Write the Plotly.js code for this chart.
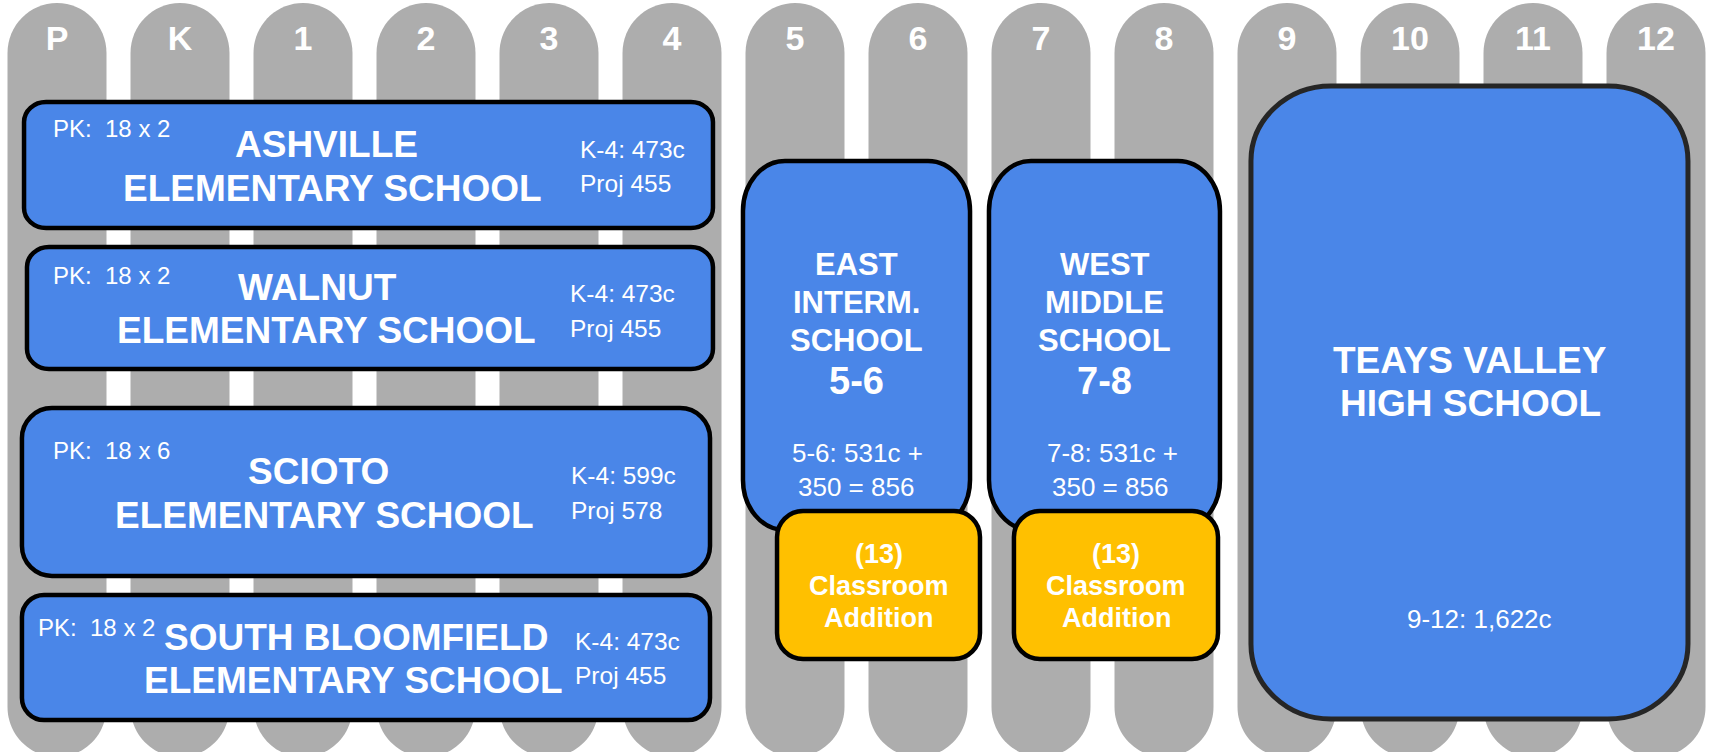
<!DOCTYPE html>
<html>
<head>
<meta charset="utf-8">
<script src="https://cdn.plot.ly/plotly-3.0.1.min.js"></script>
<style>html,body{margin:0;padding:0;background:#fff;}#chart{width:1714px;height:752px;}</style>
</head>
<body>
<div id="chart"></div>
<script>
// ---------- data ----------
const grades = ['P','K','1','2','3','4','5','6','7','8','9','10','11','12'];

const elemNames = ['ASHVILLE','WALNUT','SCIOTO','SOUTH BLOOMFIELD'];
const elemSub = 'ELEMENTARY SCHOOL';
const elemPK = ['PK:  18 x 2','PK:  18 x 2','PK:  18 x 6','PK:  18 x 2'];
const elemCap = ['K-4: 473c','K-4: 473c','K-4: 599c','K-4: 473c'];
const elemProj = ['Proj 455','Proj 455','Proj 578','Proj 455'];
const elemSpan = ['P','4'];

const midNames = [['EAST','INTERM.','SCHOOL'],['WEST','MIDDLE','SCHOOL']];
const midGrades = ['5-6','7-8'];
const midSpans = [['5','6'],['7','8']];
const midCap = [['5-6: 531c +','350 = 856'],['7-8: 531c +','350 = 856']];
const addText = ['(13)','Classroom','Addition'];

const hsName = ['TEAYS VALLEY','HIGH SCHOOL'];
const hsSpan = ['9','12'];
const hsCap = '9-12: 1,622c';

// ---------- style / layout constants ----------
const W = 1714, H = 752;
const X0 = 57, PITCH = 123;          // pixel centre of first grade column, column pitch
const GRAY = '#adadad', BLUE = '#4a86e8', GOLD = '#ffc000';
const BOLD = 'Liberation Sans, Arial, sans-serif';
const REG = 'Liberation Sans, Arial, sans-serif';

const gi = g => grades.indexOf(g);
const u = px => (px - X0) / PITCH;   // pixel -> axis unit (for layout offsets only)
const du = px => px / PITCH;

function rrect(x0, x1, y0, y1, rxPx, ryPx) {
  const rx = du(rxPx), ry = ryPx, k = 0.5523;
  return `M${x0+rx},${y0} L${x1-rx},${y0} C${x1-rx+k*rx},${y0} ${x1},${y0+ry-k*ry} ${x1},${y0+ry} ` +
         `L${x1},${y1-ry} C${x1},${y1-ry+k*ry} ${x1-rx+k*rx},${y1} ${x1-rx},${y1} ` +
         `L${x0+rx},${y1} C${x0+rx-k*rx},${y1} ${x0},${y1-ry+k*ry} ${x0},${y1-ry} ` +
         `L${x0},${y0+ry} C${x0},${y0+ry-k*ry} ${x0+rx-k*rx},${y0} ${x0+rx},${y0} Z`;
}

const shapes = [];
const annotations = [];
function box(x0, x1, y0, y1, rx, ry, fill, line, lw) {
  shapes.push({type:'path', xref:'x', yref:'y', layer:'below', path: rrect(x0,x1,y0,y1,rx,ry),
    fillcolor: fill, line:{color: line, width: lw}});
}
function txt(text, xpx, y, size, family, bold, anchor) {
  annotations.push({text: text, x: u(xpx), y: y, xref:'x', yref:'y', showarrow:false,
    xanchor: anchor || 'center', yanchor:'middle',
    font:{family: family, size: size, color:'#ffffff', weight: bold ? 'bold' : 'normal'}});
}

// grade pillars
const half = du(49.5);
grades.forEach((g, i) => {
  box(i - half, i + half, 3, 757, 49.5, 50, GRAY, GRAY, 0);
});

// elementary boxes
const elemRows = [[102,228],[247,369],[408,576],[595,720]];
const elemPad = [[-0.268,0.333],[-0.244,0.333],[-0.285,0.309],[-0.285,0.309]];
const elemR = [[22,20],[22,20],[30,30],[22,22]];
const elemTitleX = [[326,332],[317,326],[318,324],[356,353]];
const elemTitleY = [[144,188],[287,330],[471,515],[637,680]];
const elemPKpos = [[51,128],[51,275],[51,450],[36,627]];
const elemCapPos = [[578,149,183],[568,293,328],[569,475,510],[573,641,675]];
elemNames.forEach((n, i) => {
  box(gi(elemSpan[0]) + elemPad[i][0], gi(elemSpan[1]) + elemPad[i][1],
      elemRows[i][0], elemRows[i][1], elemR[i][0], elemR[i][1], BLUE, '#000000', 4.5);
  txt(n, elemTitleX[i][0], elemTitleY[i][0], 37, BOLD, true);
  txt(elemSub, elemTitleX[i][1], elemTitleY[i][1], 37, BOLD, true);
  txt(elemPK[i], elemPKpos[i][0], elemPKpos[i][1], 24, REG, false, 'left');
  txt(elemCap[i], elemCapPos[i][0], elemCapPos[i][1], 24.5, REG, false, 'left');
  txt(elemProj[i], elemCapPos[i][0], elemCapPos[i][2], 24.5, REG, false, 'left');
});

// middle schools + additions
const midPad = [[-0.423,0.423],[-0.423,0.455]];
const addPad = [[-0.146,0.504],[-0.22,0.439]];
const midCx = [856.5,1104.5];
const midCapCx = [[857,856],[1112,1110]];
const addCx = [878.5,1116];
midNames.forEach((lines, i) => {
  const a = gi(midSpans[i][0]), b = gi(midSpans[i][1]);
  box(a + midPad[i][0], b + midPad[i][1], 161, 530, 42, 50, BLUE, '#000000', 4.5);
  box(a + addPad[i][0], b + addPad[i][1], 511, 659, 26, 26, GOLD, '#000000', 4.5);
  [264,302,340].forEach((y, j) => txt(lines[j], midCx[i], y, 31, BOLD, true));
  txt(midGrades[i], midCx[i], 381, 38, BOLD, true);
  txt(midCap[i][0], midCapCx[i][0], 453, 26, REG, false);
  txt(midCap[i][1], midCapCx[i][1], 487, 26, REG, false);
  [554,586,618].forEach((y, j) => txt(addText[j], addCx[i], y, 27, BOLD, true));
});

// high school
box(gi(hsSpan[0]) - 0.293, gi(hsSpan[1]) + 0.26, 86, 719, 80, 75, BLUE, '#262626', 5);
txt(hsName[0], 1470, 360, 37, BOLD, true);
txt(hsName[1], 1470, 403, 37, BOLD, true);
txt(hsCap, 1479, 619, 26, REG, false);

// grade labels as a text trace
const trace = {
  type:'scatter', mode:'text', x: grades.map((g, i) => i), y: grades.map(() => 41),
  text: grades, textposition:'middle center', hoverinfo:'skip', showlegend:false,
  textfont:{family: BOLD, size: 34, color:'#ffffff', weight:'bold'}
};

const layout = {
  width: W, height: H, margin:{l:0,r:0,t:0,b:0},
  paper_bgcolor:'#ffffff', plot_bgcolor:'#ffffff', showlegend:false,
  xaxis:{range:[u(0), u(W)], visible:false, showgrid:false, zeroline:false, fixedrange:true},
  yaxis:{range:[H, 0], visible:false, showgrid:false, zeroline:false, fixedrange:true},
  shapes: shapes, annotations: annotations
};
Plotly.newPlot('chart', [trace], layout, {staticPlot:true, displayModeBar:false});
</script>
</body>
</html>
